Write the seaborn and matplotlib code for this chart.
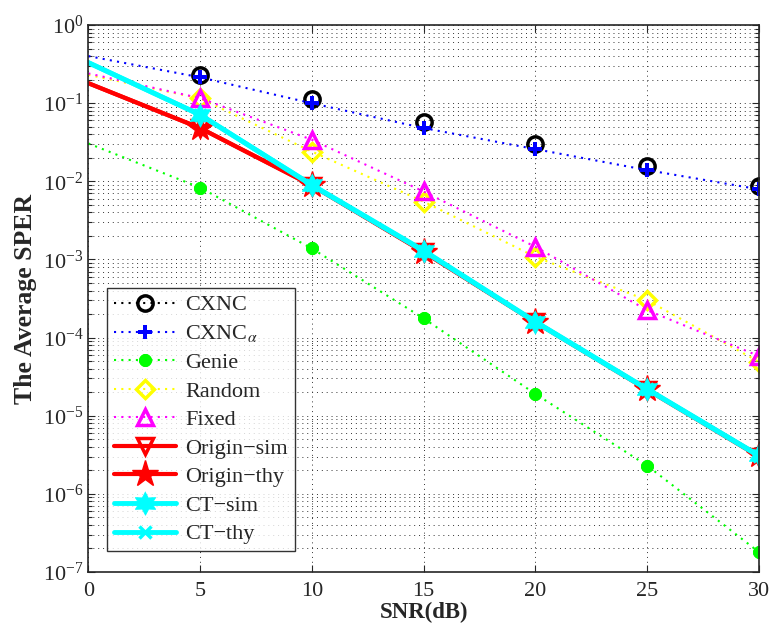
import numpy as np
import seaborn as sns
import matplotlib.pyplot as plt
from matplotlib.path import Path
from matplotlib.ticker import LogLocator

snr = [0, 5, 10, 15, 20, 25, 30]

cxnc = [0.41, 0.23, 0.113, 0.057, 0.030, 0.0158, 0.0087]
cxnc_alpha = [0.40, 0.214, 0.0996, 0.048, 0.0258, 0.0139, 0.0079]
genie = [0.0305, 0.0083, 0.00138, 1.76e-4, 1.9e-5, 2.3e-6, 1.8e-7]
random_sel = [0.23, 0.115, 0.024, 0.0055, 0.00108, 3.0e-4, 4.9e-5]
fixed = [0.24, 0.116, 0.034, 0.0074, 0.00145, 2.24e-4, 5.8e-5]
origin_sim = [0.18, 0.048, 0.0088, 1.24e-3, 1.57e-4, 2.15e-5, 3.0e-6]
origin_thy = [0.18, 0.048, 0.0089, 1.25e-3, 1.59e-4, 2.18e-5, 3.1e-6]
ct_sim = [0.33, 0.071, 0.0090, 1.3e-3, 1.6e-4, 2.2e-5, 3.1e-6]
ct_thy = [0.33, 0.071, 0.0089, 1.28e-3, 1.58e-4, 2.18e-5, 3.05e-6]

sns.set_style("ticks")
plt.rcParams['font.family'] = ['Liberation Serif', 'DejaVu Serif']
plt.rcParams['mathtext.fontset'] = 'stix'

# six-pointed star marker (MATLAB 'hexagram')
ang = np.deg2rad(90 + 30 * np.arange(12))
rad = np.where(np.arange(12) % 2 == 0, 1.0, 0.55)
hexa = Path(np.column_stack([rad * np.cos(ang), rad * np.sin(ang)]))

fig = plt.figure(figsize=(7.72, 6.28), dpi=100)
ax = fig.add_axes([0.1144, 0.0892, 0.8686, 0.8710])

dot = (0, (1, 2.5))
series = [
    (cxnc, 'CXNC', 'black', 'none', 1.5, dict(marker='o', markersize=11, markerfacecolor='none', markeredgewidth=2.5)),
    (cxnc_alpha, r'CXNC$_\alpha$', 'blue', dot, 1.5, dict(marker='P', markersize=10, markeredgewidth=0)),
    (genie, 'Genie', '#00ff00', dot, 1.5, dict(marker=(8, 2, 0), markersize=9, markeredgewidth=3)),
    (random_sel, 'Random', '#ffff00', dot, 1.5, dict(marker='D', markersize=9, markerfacecolor='none', markeredgewidth=2.5)),
    (fixed, 'Fixed', '#ff00ff', dot, 1.5, dict(marker='^', markersize=12, markerfacecolor='none', markeredgewidth=2.5)),
    (origin_sim, 'Origin\u2212sim', 'red', '-', 3, dict(marker='v', markersize=12, markerfacecolor='none', markeredgewidth=2.5)),
    (origin_thy, 'Origin\u2212thy', 'red', '-', 3, dict(marker='*', markersize=20, markeredgewidth=1)),
    (ct_sim, 'CT\u2212sim', 'cyan', '-', 3.5, dict(marker=hexa, markersize=17, markeredgewidth=0.5)),
    (ct_thy, 'CT\u2212thy', 'cyan', '-', 3.5, dict(marker='x', markersize=9, markeredgewidth=2.5)),
]

for vals, name, col, ls, lw, mk in series:
    sns.lineplot(x=snr, y=vals, ax=ax, color=col, linestyle=ls, linewidth=lw,
                 markevery=slice(1, None), markeredgecolor=col, label=name, **mk)

ax.set_yscale('log')
ax.set_xlim(0, 30)
ax.set_ylim(1e-7, 1)
ax.set_xticks([0, 5, 10, 15, 20, 25, 30])
ax.tick_params(which='both', direction='in', top=True, right=True, labelsize=16, width=0.8)
ax.tick_params(which='major', length=5)
ax.tick_params(which='minor', length=3)
ax.tick_params(axis='x', pad=7)
ax.yaxis.set_minor_locator(LogLocator(base=10, subs=np.arange(2, 10), numticks=20))
ax.grid(True, which='major', axis='both', color='0.2', linestyle=(0, (1, 4)), linewidth=0.7)
ax.grid(True, which='minor', axis='y', color='0.2', linestyle=(0, (1, 4)), linewidth=0.7)
for s in ax.spines.values():
    s.set_linewidth(1.2)

ax.set_xlabel('SNR(dB)', fontsize=16.5, fontweight='bold', labelpad=1)
ax.set_ylabel('The Average SPER', fontsize=18.5, fontweight='bold', labelpad=4)

leg = ax.legend(loc='lower left', bbox_to_anchor=(0.012, 0.018), fontsize=16, frameon=True,
                fancybox=False, edgecolor='black', handlelength=2.8, labelspacing=0.36,
                borderpad=0.3, handletextpad=0.4)
leg.get_frame().set_linewidth(1.0)
leg.get_lines()[0].set_linestyle(dot)
leg.get_lines()[0].set_linewidth(1.5)

fig.savefig('out.png', dpi=100)
